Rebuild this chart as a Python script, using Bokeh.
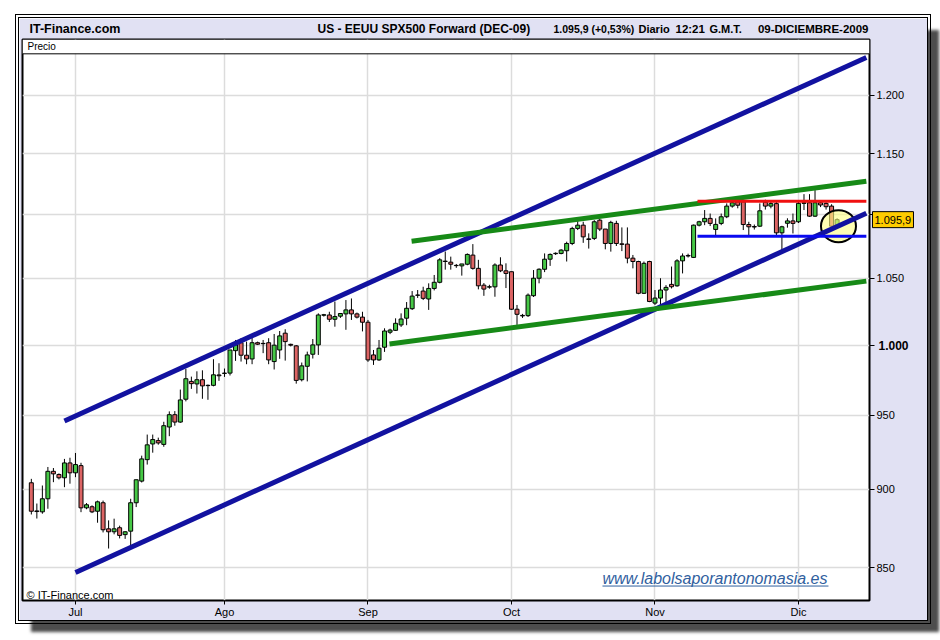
import math
from bokeh.plotting import figure
from bokeh.layouts import column, row
from bokeh.models import Range1d, FixedTicker, Label, ColumnDataSource, Spacer
from bokeh.core.properties import value
from bokeh.embed import file_html
from bokeh.resources import INLINE

# ---------------- data (daily bars, 22-jun-2009 .. 09-dic-2009) ----------------
open_ = [904.3, 885.9, 885.3, 893.8, 911.9, 909.8, 907.6, 917.5, 910.9, 915.7,
         887.9, 888.6, 885.7, 891.2, 874.4, 872.5, 875.1, 870.7, 872.9, 891.2,
         905.4, 919.7, 930.3, 932.6, 930.0, 941.9, 950.4, 945.3, 961.2, 973.8,
         972.0, 975.0, 971.0, 971.0, 978.4, 979.5, 979.7, 995.9, 1001.7, 992.6,
         989.9, 1001.7, 1001.2, 1001.7, 988.0, 996.4, 1008.7, 1000.5, 999.4, 975.0,
         984.6, 993.3, 1000.1, 1022.0, 1022.2, 1019.0, 1021.3, 1023.0, 1026.0, 1023.0,
         1020.6, 1016.8, 992.8, 989.2, 998.4, 1009.4, 1010.8, 1014.8, 1019.8, 1026.9,
         1037.0, 1040.2, 1034.2, 1042.2, 1046.9, 1063.2, 1062.4, 1059.9, 1059.5, 1060.8,
         1067.9, 1057.6, 1044.7, 1043.2, 1043.4, 1060.2, 1055.7, 1055.0, 1026.5, 1021.5,
         1021.7, 1036.7, 1050.0, 1056.9, 1064.7, 1069.0, 1069.2, 1071.3, 1077.0, 1088.9,
         1091.5, 1080.6, 1081.0, 1095.5, 1088.4, 1077.0, 1092.9, 1076.7, 1076.5, 1065.5,
         1062.9, 1038.5, 1062.9, 1031.1, 1034.9, 1041.0, 1045.3, 1044.2, 1063.4, 1067.2,
         1066.1, 1091.5, 1094.2, 1096.9, 1088.1, 1092.9, 1098.2, 1106.8, 1110.3, 1110.3,
         1092.0, 1090.4, 1090.7, 1110.0, 1106.8, 1108.8, 1085.4, 1093.0, 1094.9, 1094.2,
         1109.0, 1109.5, 1098.7, 1109.5, 1109.0, 1106.8, 1090.7]
high = [906.9, 890.7, 902.5, 914.8, 914.1, 910.5, 920.2, 921.0, 924.2, 917.6,
        891.0, 889.5, 892.6, 892.6, 879.8, 880.9, 876.4, 872.9, 893.8, 906.3,
        922.4, 936.7, 936.7, 934.6, 945.5, 952.7, 952.9, 968.0, 982.8, 977.2,
        981.0, 981.7, 971.6, 989.7, 986.8, 983.0, 996.4, 1003.7, 1005.0, 1002.5,
        1007.4, 1002.5, 1003.7, 1005.0, 1008.1, 1010.3, 1011.6, 1001.0, 1000.0, 987.3,
        995.2, 1004.4, 1023.4, 1023.0, 1024.6, 1032.3, 1023.3, 1033.4, 1034.6, 1024.0,
        1024.6, 1018.5, 996.4, 1003.7, 1012.3, 1012.0, 1019.7, 1023.4, 1031.9, 1040.2,
        1041.0, 1043.5, 1046.1, 1052.5, 1065.5, 1070.7, 1066.7, 1061.0, 1061.0, 1069.2,
        1076.5, 1064.2, 1046.3, 1045.0, 1061.5, 1066.2, 1061.5, 1055.0, 1029.7, 1023.0,
        1038.4, 1056.3, 1057.6, 1069.2, 1069.2, 1070.0, 1072.5, 1078.4, 1090.2, 1096.8,
        1094.2, 1085.0, 1095.5, 1096.8, 1088.4, 1095.0, 1095.0, 1089.7, 1089.7, 1068.0,
        1063.5, 1062.9, 1063.5, 1041.0, 1050.0, 1044.7, 1059.0, 1064.7, 1069.2, 1069.0,
        1092.0, 1095.0, 1103.6, 1100.8, 1096.9, 1100.8, 1109.0, 1111.7, 1113.0, 1111.7,
        1094.2, 1092.0, 1109.0, 1112.0, 1111.0, 1110.5, 1091.0, 1097.0, 1100.8, 1110.3,
        1116.5, 1116.5, 1119.8, 1111.7, 1110.0, 1108.3, 1097.0]
low = [883.6, 881.0, 884.1, 887.3, 904.7, 906.5, 901.4, 903.7, 908.0, 885.1,
       887.0, 884.5, 878.3, 872.1, 861.9, 870.9, 868.3, 868.0, 863.5, 888.4,
       904.5, 916.4, 924.4, 929.8, 928.4, 935.6, 942.8, 944.8, 959.7, 968.5,
       965.2, 961.5, 960.8, 970.3, 974.2, 977.0, 978.0, 988.5, 988.0, 986.1,
       986.1, 1000.0, 994.1, 986.1, 982.3, 990.0, 988.7, 999.0, 972.2, 973.8,
       973.8, 990.2, 992.8, 1021.0, 1017.0, 1013.5, 1020.0, 1011.2, 1018.5, 1019.6,
       1010.0, 987.8, 985.6, 988.5, 995.0, 1008.0, 1010.3, 1013.3, 1014.6, 1025.9,
       1035.0, 1033.4, 1026.0, 1040.7, 1046.1, 1056.6, 1056.6, 1058.0, 1052.0, 1060.0,
       1056.6, 1041.5, 1036.6, 1042.0, 1035.9, 1054.7, 1042.5, 1026.0, 1014.8, 1020.0,
       1020.7, 1035.7, 1046.1, 1054.7, 1059.5, 1068.0, 1068.5, 1062.9, 1075.7, 1087.6,
       1077.5, 1073.0, 1079.7, 1086.8, 1072.4, 1070.6, 1075.0, 1071.0, 1061.5, 1057.6,
       1037.8, 1038.0, 1031.8, 1029.7, 1029.7, 1029.7, 1042.2, 1043.5, 1053.7, 1066.0,
       1065.6, 1090.5, 1091.5, 1090.8, 1083.4, 1091.5, 1097.1, 1105.5, 1105.0, 1087.6,
       1083.4, 1088.0, 1090.0, 1104.0, 1105.0, 1083.0, 1069.2, 1089.5, 1084.9, 1093.2,
       1103.6, 1098.1, 1098.0, 1106.0, 1104.0, 1089.0, 1089.0]
close = [885.7, 885.5, 893.8, 911.9, 910.2, 907.6, 917.5, 910.9, 916.4, 887.9,
         889.9, 885.3, 891.8, 873.8, 872.5, 874.4, 870.2, 872.5, 891.2, 906.3,
         920.2, 929.7, 933.3, 931.0, 942.8, 950.4, 945.3, 960.7, 975.7, 972.2,
         975.0, 970.6, 970.8, 978.5, 977.8, 979.7, 996.4, 1000.1, 992.6, 989.9,
         1001.7, 1000.6, 1001.0, 989.2, 999.9, 1006.7, 1002.5, 999.9, 974.5, 984.9,
         992.8, 1000.1, 1022.2, 1022.4, 1019.0, 1021.0, 1023.3, 1026.0, 1023.0, 1020.6,
         1016.8, 989.2, 989.2, 997.7, 1010.3, 1011.0, 1016.0, 1019.2, 1027.2, 1036.4,
         1037.2, 1034.7, 1042.2, 1046.9, 1064.2, 1062.9, 1060.8, 1059.7, 1061.0, 1068.4,
         1057.6, 1044.2, 1041.7, 1043.5, 1060.2, 1055.7, 1053.7, 1026.5, 1022.7, 1021.9,
         1037.1, 1050.0, 1056.9, 1064.7, 1068.4, 1069.3, 1071.8, 1077.0, 1088.9, 1091.5,
         1082.2, 1080.2, 1094.2, 1088.4, 1077.0, 1093.7, 1077.0, 1076.3, 1065.5, 1062.9,
         1038.5, 1061.5, 1032.3, 1034.9, 1041.0, 1043.0, 1043.5, 1063.4, 1067.2, 1067.6,
         1091.5, 1094.2, 1096.9, 1092.9, 1092.1, 1098.2, 1106.8, 1109.5, 1107.5, 1092.0,
         1090.2, 1090.0, 1103.0, 1106.8, 1108.8, 1085.4, 1090.2, 1094.9, 1092.9, 1109.0,
         1109.5, 1098.7, 1109.5, 1107.7, 1106.3, 1090.7, 1095.9]
bar = list(range(len(close)))

month_ticks = [8, 35, 61, 87, 113, 139]
month_labels = ["Jul", "Ago", "Sep", "Oct", "Nov", "Dic"]
price_ticks = [850, 900, 950, 1000, 1050, 1100, 1150, 1200]
price_labels = ["850", "900", "950", "", "1.050", "", "1.150", "1.200"]

# analyst drawings (bar index, price)
channel_top_x = [6.0, 151.3]
channel_top_y = [946.1, 1233.7]
channel_bot_x = [8.0, 151.3]
channel_bot_y = [846.9, 1101.0]
wedge_top_x = [68.9, 151.3]
wedge_top_y = [1078.8, 1127.0]
wedge_bot_x = [64.9, 151.3]
wedge_bot_y = [1000.8, 1047.8]
resist_x = [120.7, 151.3]
resist_y = [1110.7, 1110.7]
support_x = [120.7, 151.3]
support_y = [1082.7, 1082.7]
mark_x = [146.25]
mark_y = [1090.7]

# ---------------- layout helpers ----------------
X0, Y0 = -1.60, 829.8
X1, Y1 = 151.87, 1250.0
CANVAS_LEFT, CANVAS_TOP = 19, 18      # page position of the canvas


def px_x(px):          # page px -> bar index
    return 8 + (px - 75) / 5.519


def px_y(py):          # page px -> price
    return 850 * math.exp((568 - py) / 1371.8)


def cx(px):
    return px - CANVAS_LEFT


def cy(py):
    return py - CANVAS_TOP


FONT = "Liberation Sans"

p = figure(width=908, height=602,
           x_range=Range1d(X0, X1), y_range=Range1d(Y0, Y1),
           y_axis_type="log", y_axis_location="right",
           output_backend="svg", toolbar_location=None,
           min_border_left=3, min_border_right=58, min_border_top=21, min_border_bottom=19,
           background_fill_color="white", border_fill_color="#e1e1f3",
           outline_line_color="black", outline_line_width=2)
p.styles = {"outline": "4px double #000000", "box-shadow": "12px 12px 3px #4d4d4d"}

# axes
p.xaxis.ticker = FixedTicker(ticks=month_ticks)
p.xaxis.major_label_overrides = {t: l for t, l in zip(month_ticks, month_labels)}
p.yaxis.ticker = FixedTicker(ticks=price_ticks)
p.yaxis.major_label_overrides = {t: l for t, l in zip(price_ticks, price_labels)}
for ax in (p.xaxis[0], p.yaxis[0]):
    ax.major_label_text_font = FONT
    ax.major_label_text_font_size = "11px"
    ax.major_label_text_color = "black"
    ax.major_tick_line_color = "black"
    ax.major_tick_in = 0
    ax.minor_tick_line_color = None
    ax.axis_line_color = None
p.xaxis.major_tick_out = 4
p.yaxis.major_tick_out = 5
p.xaxis.major_label_standoff = 1
p.yaxis.major_label_standoff = 2
p.xgrid.grid_line_color = "#dcdcdc"
p.xgrid.grid_line_width = 1.5
p.ygrid.grid_line_color = "#dcdcdc"
p.ygrid.grid_line_width = 1.5

# candles
up = [c >= o for o, c in zip(open_, close)]
src = ColumnDataSource(dict(
    x=bar, high=high, low=low,
    top=[max(o, c) for o, c in zip(open_, close)],
    bottom=[min(o, c) for o, c in zip(open_, close)],
    color=["#46c846" if u else "#dc6464" for u in up],
))
p.segment(x0="x", y0="high", x1="x", y1="low", source=src, line_color="black", line_width=1)
p.vbar(x="x", top="top", bottom="bottom", width=0.72, source=src,
       fill_color="color", line_color="black", line_width=1)

# highlight circle
p.ellipse(x=mark_x, y=mark_y, width=35, height=32, width_units="screen", height_units="screen",
          fill_color="#ffff80", fill_alpha=0.6, line_color="black", line_width=2)

# trend lines
p.line(channel_top_x, channel_top_y, line_color="#1212a0", line_width=5)
p.line(channel_bot_x, channel_bot_y, line_color="#1212a0", line_width=5)
p.line(wedge_top_x, wedge_top_y, line_color="#178a17", line_width=5)
p.line(wedge_bot_x, wedge_bot_y, line_color="#178a17", line_width=5)
p.line(resist_x, resist_y, line_color="#f01010", line_width=3)
p.line(support_x, support_y, line_color="#0a0af0", line_width=3)

# "Precio" strip (white band at the top of the frame)
strip_bottom = px_y(53.3)
p.quad(left=[X0], right=[X1], bottom=[strip_bottom], top=[Y1],
       fill_color="white", line_color=None)
p.line([X0, X1], [strip_bottom, strip_bottom], line_color="black", line_width=1)


def overlay_text(px, py, text, size, style="normal", align="left", color="black", y=None):
    p.text(x=[px_x(px)], y=[px_y(py) if y is None else y], text=[text],
           text_font=value(FONT), text_font_size=size, text_font_style=style,
           text_color=color, text_baseline="middle", text_align=align, level="overlay")


# header line
last = close[-1]
last_txt = f"{last:,.1f}".replace(",", "X").replace(".", ",").replace("X", ".")
HY = 28.5
overlay_text(29, HY, "IT-Finance.com", "12.5px", "bold")
overlay_text(317, HY, "US - EEUU SPX500 Forward (DEC-09)", "12px", "bold")
overlay_text(553, HY, f"{last_txt} (+0,53%)", "10.5px", "bold")
overlay_text(638, HY, "Diario", "11px", "bold")
overlay_text(675, HY, "12:21", "11.5px", "bold")
overlay_text(709, HY, "G.M.T.", "11px", "bold")
overlay_text(868, HY, "09-DICIEMBRE-2009", "11.5px", "bold", align="right")

# right-axis extras: bold 1.000 and the last-price tag
overlay_text(878, 0, "1.000", "12px", "bold", y=1000)
p.rect(x=[px_x(892.5)], y=[last], width=41, height=16, width_units="screen",
       height_units="screen", fill_color="#ffcc00", line_color="black", line_width=1,
       level="overlay")
overlay_text(874, 0, last_txt, "11px", y=last)


def canvas_label(px, py, text, **kw):
    opts = dict(text_font=FONT, text_color="black", text_baseline="middle")
    opts.update(kw)
    p.add_layout(Label(x=cx(px), y=cy(py), x_units="canvas", y_units="canvas",
                       text=text, **opts))


canvas_label(27, 46, "Precio", text_font_size="10px")
canvas_label(26, 594, "\u00a9 IT-Finance.com", text_font_size="11px")
canvas_label(602, 578, "www.labolsaporantonomasia.es", text_font_size="16px",
             text_font_style="italic", text_color="#30609e")
p.line([px_x(602), px_x(828)], [px_y(586.5), px_y(586.5)], line_color="#30609e", line_width=1)

page = column(Spacer(height=CANVAS_TOP), row(Spacer(width=CANVAS_LEFT), p))
open("out.html", "w").write(file_html(page, INLINE))
